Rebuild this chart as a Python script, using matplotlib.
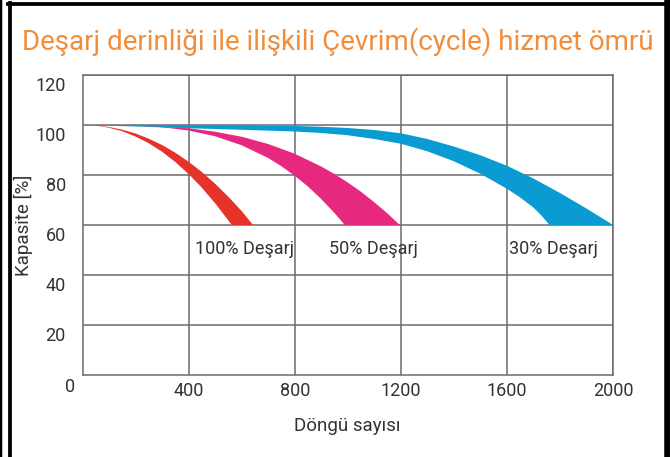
import matplotlib as mpl
import matplotlib.pyplot as plt
import matplotlib.transforms as mtransforms
from matplotlib.lines import Line2D

mpl.rcParams["font.family"] = ["Roboto", "DejaVu Sans"]

# band edges: (cycles, capacity %)
red_outer_x = [0, 50, 100, 150, 200, 250, 300, 350, 400, 450, 500, 550, 600, 643]
red_outer_y = [100, 99.8, 99.2, 98.1, 96.6, 94.5, 92, 88.9, 85.3, 81.2, 76.5, 71.3, 65.6, 60]
red_inner_x = [0, 50, 100, 150, 200, 250, 300, 350, 400, 450, 500, 540, 563]
red_inner_y = [100, 99.75, 98.9, 97.5, 95.4, 92.7, 89.3, 85.2, 80.4, 74.9, 68.7, 63.2, 60]

pink_outer_x = [0, 200, 400, 500, 600, 700, 800, 900, 950, 1000, 1050, 1100, 1150, 1196]
pink_outer_y = [100, 99.8, 98.7, 97.3, 95.3, 92.4, 88.5, 83.4, 80.4, 77, 73.3, 69.1, 64.6, 60]
pink_inner_x = [0, 200, 300, 400, 500, 600, 700, 750, 800, 850, 900, 950, 989]
pink_inner_y = [100, 99.8, 99.1, 97.8, 95.5, 91.9, 86.8, 83.5, 79.7, 75.4, 70.4, 64.8, 60]

blue_outer_x = [0, 400, 600, 800, 900, 1000, 1100, 1200, 1300, 1400, 1500,
                1600, 1700, 1800, 1900, 2000]
blue_outer_y = [100, 100, 99.9, 99.6, 99.3, 98.8, 98, 96.7, 94.4, 91.4, 87.9,
                83.7, 78.6, 72.8, 66.6, 60]
blue_inner_x = [0, 200, 400, 600, 800, 900, 1000, 1100, 1200, 1300, 1400,
                1500, 1600, 1650, 1700, 1730, 1761]
blue_inner_y = [100, 99.4, 98.7, 98.1, 97.4, 96.8, 95.9, 94.4, 92.5, 89.5, 85.5,
                80.5, 74.5, 71, 67, 63.8, 60]

labels = ["100% Deşarj", "50% Deşarj", "30% Deşarj"]
label_x = [612, 1098, 1776]
label_y = 50.5

x_ticks = [400, 800, 1200, 1600, 2000]
y_ticks = [20, 40, 60, 80, 100, 120]

c_red = "#e5332a"
c_pink = "#e6287f"
c_blue = "#0a9bd2"
c_grid = "#6b6b6b"
c_text = "#333333"

fig = plt.figure(figsize=(6.70, 4.57), dpi=100)
ax = fig.add_axes([82.5 / 670, 1 - 375 / 457, 530.5 / 670, 300 / 457])

ax.fill(blue_outer_x + blue_inner_x[::-1], blue_outer_y + blue_inner_y[::-1],
        color=c_blue, lw=0, zorder=3)
ax.fill(pink_outer_x + pink_inner_x[::-1], pink_outer_y + pink_inner_y[::-1],
        color=c_pink, lw=0, zorder=4)
ax.fill(red_outer_x + red_inner_x[::-1], red_outer_y + red_inner_y[::-1],
        color=c_red, lw=0, zorder=5)

for t, x in zip(labels, label_x):
    ax.text(x, label_y, t, ha="center", va="center", fontsize=13, color=c_text)

ax.set_xlim(0, 2000)
ax.set_ylim(0, 120)
ax.set_xticks(x_ticks)
ax.set_yticks(y_ticks)
ax.grid(True, color=c_grid, lw=1.1, zorder=1)
ax.set_axisbelow(True)
for s in ax.spines.values():
    s.set_color(c_grid)
    s.set_linewidth(1.1)

ax.tick_params(length=0, labelsize=13, labelcolor=c_text)
ax.tick_params(axis="y", pad=12)
ax.tick_params(axis="x", pad=5)
off = mtransforms.ScaledTranslation(0, -9 / 100, fig.dpi_scale_trans)
for lab in ax.get_yticklabels():
    lab.set_transform(lab.get_transform() + off)
ax.annotate("0", xy=(0, 0), xytext=(-9, -8.5), textcoords="offset points",
            ha="center", va="center", fontsize=13, color=c_text)

ax.set_xlabel("Döngü sayısı", fontsize=13.5, color=c_text, labelpad=12)
ax.set_ylabel("Kapasite [%]", fontsize=13.5, color=c_text, labelpad=2)

fig.text(338 / 670, 1 - 42 / 457,
         "Deşarj derinliği ile ilişkili Çevrim(cycle) hizmet ömrü",
         ha="center", va="center", fontsize=20, color="#f28d3a")

# frame lines around the picture
W, H = 670, 457
fig.add_artist(Line2D([1.2 / W, 1.2 / W], [0, 1], color="black", lw=2.5 * 0.72))
fig.add_artist(Line2D([9.5 / W, 9.5 / W], [0, 1 - 2.5 / H], color="black", lw=3.8 * 0.72))
fig.add_artist(Line2D([7.7 / W, 1], [1 - 4.4 / H, 1 - 4.4 / H], color="black", lw=3.8 * 0.72))
fig.add_artist(Line2D([666.5 / W, 666.5 / W], [0, 1], color="black", lw=6.5 * 0.72))

fig.savefig("out.png", dpi=100, facecolor="white")
